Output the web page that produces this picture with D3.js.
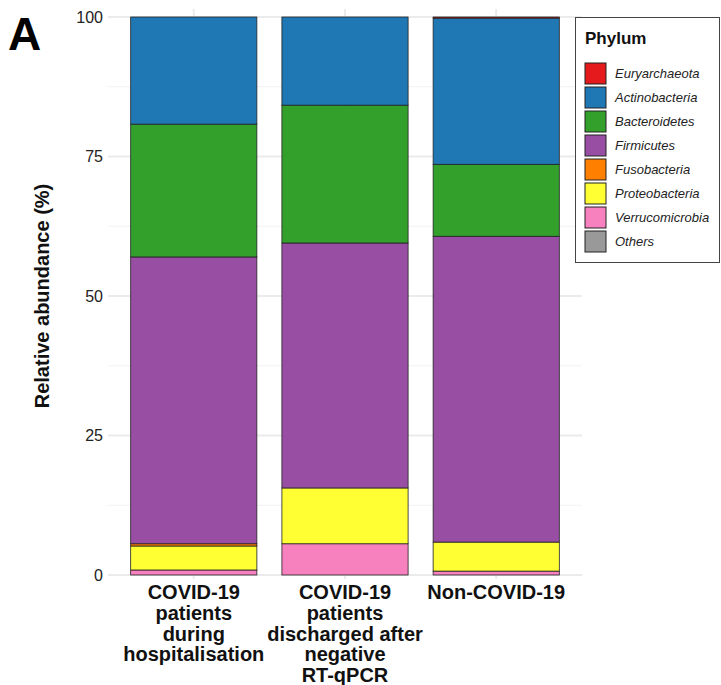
<!DOCTYPE html>
<html>
<head>
<meta charset="utf-8">
<script src="https://cdn.jsdelivr.net/npm/d3@7"></script>
<style>
  body { margin: 0; background: #fff; }
  text { font-family: "Liberation Sans", Arial, sans-serif; }
</style>
</head>
<body>
<div id="chart"></div>
<script>
// groups on the x axis (lines of each label)
const groups = ["during", "discharged", "non"];
const groupLabels = [
  ["COVID-19", "patients", "during", "hospitalisation"],
  ["COVID-19", "patients", "discharged after", "negative", "RT-qPCR"],
  ["Non-COVID-19"]
];

// phyla, legend order (first one ends up on top of the stack)
const phyla = ["Euryarchaeota", "Actinobacteria", "Bacteroidetes", "Firmicutes",
  "Fusobacteria", "Proteobacteria", "Verrucomicrobia", "Others"];
const colors = ["#e41a1c", "#1f78b4", "#33a02c", "#984ea3",
  "#ff7f00", "#ffff33", "#f781bf", "#999999"];

// relative abundance (%) per phylum, one value per group
const euryarchaeota = [0.0, 0.0, 0.2];
const actinobacteria = [19.2, 15.8, 26.2];
const bacteroidetes = [23.8, 24.7, 12.9];
const firmicutes = [51.4, 43.9, 54.8];
const fusobacteria = [0.4, 0.0, 0.0];
const proteobacteria = [4.3, 10.0, 5.2];
const verrucomicrobia = [0.9, 5.6, 0.7];
const others = [0.0, 0.0, 0.0];

const yTicks = [0, 25, 50, 75, 100];
const yMinor = [12.5, 37.5, 62.5, 87.5];

const seriesValues = [euryarchaeota, actinobacteria, bacteroidetes, firmicutes,
  fusobacteria, proteobacteria, verrucomicrobia, others];

const rows = groups.map((g, i) => {
  const r = { group: g };
  phyla.forEach((p, j) => { r[p] = seriesValues[j][i]; });
  return r;
});

const W = 721, H = 685;
const margin = { top: 17, right: 139, bottom: 110, left: 108 };
const width = W - margin.left - margin.right;
const height = H - margin.top - margin.bottom;

const svg = d3.select("#chart").append("svg")
  .attr("width", W).attr("height", H);

const g = svg.append("g")
  .attr("transform", `translate(${margin.left}, ${margin.top})`);

const x = d3.scaleBand().domain(groups).range([0, width])
  .paddingInner(25 / 151).paddingOuter(0.15);
const y = d3.scaleLinear().domain([0, 100]).range([height, 0]);

// grid
g.selectAll(".minor").data(yMinor).join("line")
  .attr("x1", 0).attr("x2", width)
  .attr("y1", d => y(d)).attr("y2", d => y(d))
  .attr("stroke", "#f2f2f2").attr("stroke-width", 1);
g.selectAll(".major").data(yTicks).join("line")
  .attr("x1", 0).attr("x2", width)
  .attr("y1", d => y(d)).attr("y2", d => y(d))
  .attr("stroke", "#ebebeb").attr("stroke-width", 2);
g.selectAll(".vgrid").data(groups).join("line")
  .attr("x1", d => x(d) + x.bandwidth() / 2).attr("x2", d => x(d) + x.bandwidth() / 2)
  .attr("y1", -8).attr("y2", height + 4)
  .attr("stroke", "#ebebeb").attr("stroke-width", 2);

// stacked bars, last phylum at the bottom
const stack = d3.stack().keys(phyla.slice().reverse())(rows);
const color = d3.scaleOrdinal().domain(phyla).range(colors);

g.selectAll(".layer").data(stack).join("g")
  .attr("fill", d => color(d.key))
  .selectAll("rect").data(d => d.filter(p => p[1] - p[0] > 0)).join("rect")
  .attr("x", d => x(d.data.group))
  .attr("y", d => y(d[1]))
  .attr("width", x.bandwidth())
  .attr("height", d => y(d[0]) - y(d[1]))
  .attr("stroke", "#222").attr("stroke-width", 0.8);

// y axis labels
const yAxis = g.append("g").call(d3.axisLeft(y).tickValues(yTicks).tickSize(0).tickPadding(5));
yAxis.select(".domain").remove();
yAxis.selectAll("text").attr("font-size", 16).attr("fill", "#222")
  .style("font-family", "Liberation Sans, Arial, sans-serif");

// x axis labels
const xl = g.append("g").attr("transform", `translate(0, ${height})`);
groups.forEach((grp, i) => {
  const t = xl.append("text")
    .attr("x", x(grp) + x.bandwidth() / 2)
    .attr("y", 24)
    .attr("text-anchor", "middle")
    .attr("font-size", 20).attr("font-weight", "bold").attr("fill", "#111");
  groupLabels[i].forEach((line, k) => {
    t.append("tspan").attr("x", x(grp) + x.bandwidth() / 2)
      .attr("dy", k === 0 ? 0 : 20.8).text(line);
  });
});

// y title
svg.append("text")
  .attr("transform", `translate(49, ${margin.top + height / 2}) rotate(-90)`)
  .attr("text-anchor", "middle")
  .attr("font-size", 20).attr("font-weight", "bold").attr("fill", "#111")
  .text("Relative abundance (%)");

// panel tag
svg.append("text").attr("x", 8).attr("y", 50)
  .attr("font-size", 46).attr("font-weight", "bold").attr("fill", "#000")
  .text("A");

// legend
const legend = svg.append("g").attr("transform", "translate(575, 17)");
legend.append("rect").attr("x", 0.5).attr("y", 0.5)
  .attr("width", 144).attr("height", 245)
  .attr("fill", "#fff").attr("stroke", "#444").attr("stroke-width", 1);
legend.append("text").attr("x", 10).attr("y", 27)
  .attr("font-size", 17).attr("font-weight", "bold").attr("fill", "#111")
  .text("Phylum");
const items = legend.selectAll(".item").data(phyla).join("g")
  .attr("transform", (d, i) => `translate(10, ${46 + i * 24})`);
items.append("rect").attr("width", 21).attr("height", 21)
  .attr("fill", d => color(d)).attr("stroke", "#222").attr("stroke-width", 1);
items.append("text").attr("x", 30).attr("y", 15)
  .attr("font-size", 13).attr("font-style", "italic").attr("fill", "#222")
  .text(d => d);
</script>
</body>
</html>
